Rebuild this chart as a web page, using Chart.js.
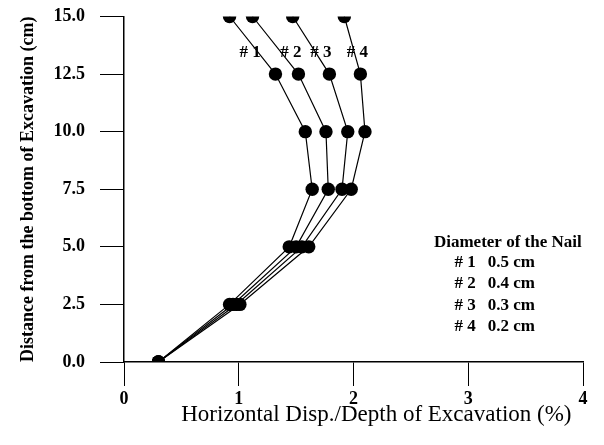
<!DOCTYPE html>
<html>
<head>
<meta charset="utf-8">
<script src="https://cdn.jsdelivr.net/npm/chart.js@4/dist/chart.umd.min.js"></script>
<style>
  html, body { margin: 0; padding: 0; background: #fff; }
  #wrap { width: 604px; height: 445px; }
</style>
</head>
<body>
<div id="wrap"><canvas id="chart" width="604" height="445"></canvas></div>
<script>
// Height above excavation bottom (cm)
const heights = [0, 2.5, 5, 7.5, 10, 12.5, 15];

// Horizontal disp. / depth of excavation (%) for each nail diameter
const nail1 = [0.30, 0.92, 1.44, 1.64, 1.58, 1.32, 0.92];
const nail2 = [0.30, 0.95, 1.50, 1.78, 1.76, 1.52, 1.12];
const nail3 = [0.30, 0.98, 1.55, 1.90, 1.95, 1.79, 1.47];
const nail4 = [0.30, 1.01, 1.61, 1.98, 2.10, 2.06, 1.92];

const nailNames = ['# 1', '# 2', '# 3', '# 4'];
const diameters = ['0.5 cm', '0.4 cm', '0.3 cm', '0.2 cm'];
const legendTitle = 'Diameter of the Nail';

const xTitle = 'Horizontal Disp./Depth of Excavation (%)';
const yTitle = 'Distance from the bottom of Excavation (cm)';

const SERIF = '"Liberation Serif", "Times New Roman", serif';

const toPoints = (xs) => xs.map((v, i) => ({ x: v, y: heights[i] }));

const makeSet = (label, xs) => ({
  label,
  data: toPoints(xs),
  showLine: true,
  borderColor: '#000',
  borderWidth: 1.2,
  backgroundColor: '#000',
  pointBackgroundColor: '#000',
  pointBorderColor: '#000',
  pointRadius: 6.7,
  pointBorderWidth: 0,
  tension: 0,
});

// text labels drawn in data units (series tags + the diameter key)
const notes = {
  id: 'notes',
  afterDatasetsDraw(chart) {
    const { ctx, scales: { x, y } } = chart;
    ctx.save();
    ctx.fillStyle = '#000';
    ctx.font = 'bold 17px ' + SERIF;
    ctx.textBaseline = 'middle';

    // tags above the curves
    const tagX = [1.10, 1.455, 1.716, 2.034];
    ctx.textAlign = 'center';
    nailNames.forEach((n, i) => {
      ctx.fillText(n, x.getPixelForValue(tagX[i]), y.getPixelForValue(13.42));
    });

    // key
    ctx.fillText(legendTitle, x.getPixelForValue(3.345), y.getPixelForValue(5.17));
    const rowY = [4.30, 3.39, 2.43, 1.52];
    ctx.textAlign = 'left';
    nailNames.forEach((n, i) => {
      ctx.fillText(n, x.getPixelForValue(2.88), y.getPixelForValue(rowY[i]));
      ctx.fillText(diameters[i], x.getPixelForValue(3.17), y.getPixelForValue(rowY[i]));
    });
    ctx.restore();
  }
};

new Chart(document.getElementById('chart').getContext('2d'), {
  type: 'scatter',
  data: {
    datasets: [
      makeSet('# 1', nail1),
      makeSet('# 2', nail2),
      makeSet('# 3', nail3),
      makeSet('# 4', nail4),
    ]
  },
  options: {
    responsive: false,
    animation: false,
    layout: { padding: { top: 16.5, right: 21, left: 0, bottom: 0 } },
    plugins: {
      legend: { display: false },
      tooltip: { enabled: false },
    },
    scales: {
      x: {
        type: 'linear',
        min: 0,
        max: 4,
        ticks: {
          stepSize: 1,
          color: '#000',
          padding: 3,
          maxRotation: 0,
          font: { family: SERIF, size: 18, weight: 'bold' },
        },
        grid: { drawOnChartArea: false, tickLength: 24, tickColor: '#000', tickWidth: 1 },
        border: { display: true, color: '#000', width: 1.5 },
        title: {
          display: true,
          // trailing spaces nudge the right-aligned title in from the axis end
          text: xTitle + '  ',
          align: 'end',
          color: '#000',
          font: { family: SERIF, size: 23, weight: 'normal' },
          padding: { top: 0, bottom: 16 },
        },
        afterFit: (s) => { s.height = 83; },
      },
      y: {
        type: 'linear',
        min: 0,
        max: 15,
        ticks: {
          stepSize: 2.5,
          color: '#000',
          padding: 15,
          font: { family: SERIF, size: 18, weight: 'bold' },
          callback: (v) => Number(v).toFixed(1),
        },
        grid: { drawOnChartArea: false, tickLength: 24, tickColor: '#000', tickWidth: 1 },
        border: { display: true, color: '#000', width: 1.5 },
        title: {
          display: true,
          text: yTitle,
          color: '#000',
          font: { family: SERIF, size: 18, weight: 'bold' },
          padding: { top: 18, bottom: 0 },
        },
        afterFit: (s) => {
          s.width = 124;
          // tick padding would otherwise push the top of the plot down
          s.paddingTop = 10;
        },
      }
    }
  },
  plugins: [notes]
});
</script>
</body>
</html>
